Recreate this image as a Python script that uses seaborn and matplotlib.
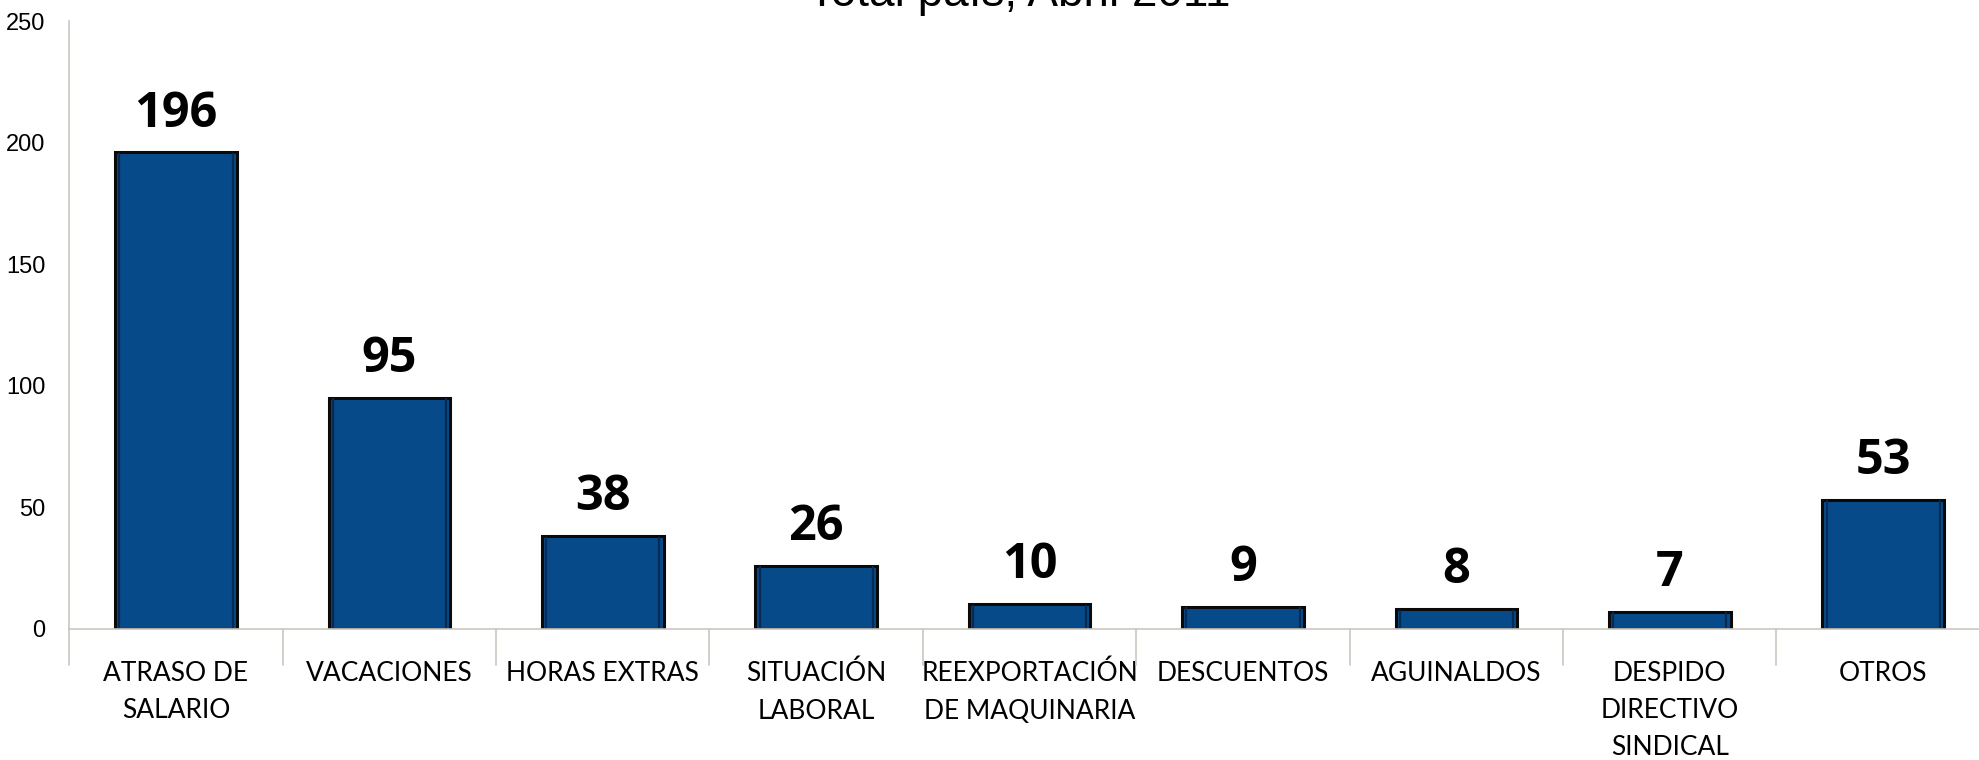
import matplotlib
matplotlib.use("Agg")
import matplotlib.pyplot as plt
import seaborn as sns
import pandas as pd

# datos del grafico
categorias = ["ATRASO DE\nSALARIO", "VACACIONES", "HORAS EXTRAS", "SITUACIÓN\nLABORAL",
              "REEXPORTACIÓN\nDE MAQUINARIA", "DESCUENTOS", "AGUINALDOS",
              "DESPIDO\nDIRECTIVO\nSINDICAL", "OTROS"]
valores = [196, 95, 38, 26, 10, 9, 8, 7, 53]
y_ticks = [0, 50, 100, 150, 200, 250]
titulo = "Total país, Abril 2011"

df = pd.DataFrame({"categoria": categorias, "valor": valores})

sns.set_style("white")
plt.rcParams['font.family'] = ['Liberation Sans', 'DejaVu Sans']
plt.rcParams['text.color'] = 'black'
plt.rcParams['xtick.color'] = 'black'
plt.rcParams['ytick.color'] = 'black'

fig = plt.figure(figsize=(19.79, 7.6), dpi=100)
ax = fig.add_axes([0.035, 0.1728, 0.9705, 0.7992])

sns.barplot(data=df, x="categoria", y="valor", color="#074a8a", saturation=1,
            width=0.57, edgecolor="#0a0a0a", linewidth=2.2, ax=ax)

ax.set_ylim(0, 250)
ax.set_xlim(-0.5, len(categorias) - 0.5)
ax.set_yticks(y_ticks)
ax.set_yticklabels([str(v) for v in y_ticks], fontsize=17)
ax.set_xlabel("")
ax.set_ylabel("")

# etiquetas de categoria
ax.set_xticks(range(len(categorias)))
ax.set_xticklabels(categorias, fontsize=19, family=['Lato', 'DejaVu Sans'],
                   linespacing=1.62, va='top')
ax.tick_params(axis='x', length=0, pad=23, colors='black')
ax.tick_params(axis='y', length=5, color="#c8c8c0", width=1.2, direction='out',
               labelcolor='black', pad=12)

# marcas entre categorias
for b in [i + 0.5 for i in range(-1, len(categorias))]:
    ax.plot([b, b], [0, -0.06], transform=ax.get_xaxis_transform(), color="#c8c8c0",
            lw=1.2, clip_on=False)

for s in ["top", "right"]:
    ax.spines[s].set_visible(False)
for s in ["left", "bottom"]:
    ax.spines[s].set_color("#c8c8c0")
    ax.spines[s].set_linewidth(1.2)

# bisel sutil dentro de cada barra
for p in ax.patches:
    x0, w = p.get_x(), p.get_width()
    h = p.get_height()
    ax.plot([x0 + w * 0.035, x0 + w * 0.035], [0.6, h - 0.6], color="#062a52", lw=1.6)
    ax.plot([x0 + w * 0.965, x0 + w * 0.965], [0.6, h - 0.6], color="#062a52", lw=1.6)

# valores sobre las barras
for i, v in enumerate(valores):
    ax.annotate(str(v), (i, v), xytext=(0, 10), textcoords="offset points",
                ha="center", va="bottom", fontsize=35, fontweight="bold",
                color="black", family=['Open Sans', 'DejaVu Sans'])

fig.text(0.515, 1 - 6 / 760, titulo, ha="center", va="baseline", fontsize=33,
         color="black")

fig.savefig("out.png", dpi=100)
